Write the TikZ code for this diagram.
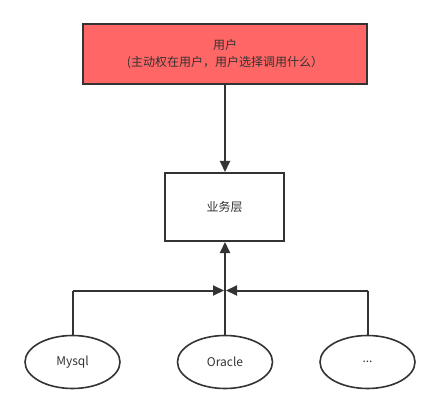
\documentclass[tikz,border=0pt]{standalone}
\usepackage{fontspec}
\setmainfont{Noto Sans CJK SC}
\usetikzlibrary{arrows.meta,shapes.geometric}
\definecolor{ink}{HTML}{333333}
\definecolor{userred}{HTML}{FF6666}
\tikzset{
  x=1pt,y=-1pt,
  box/.style={draw=ink,line width=2pt,text=ink,font=\fontsize{12}{17}\selectfont,align=center,inner sep=0pt},
  db/.style={draw=ink,line width=1.6pt,ellipse,text=ink,font=\fontsize{12}{15}\selectfont,inner sep=0pt,minimum width=95pt,minimum height=53pt},
  conn/.style={draw=ink,line width=2pt,-{Triangle[length=11pt,width=10pt]}},
  plain/.style={draw=ink,line width=2pt}
}
\begin{document}
\begin{tikzpicture}
\useasboundingbox (0,0) rectangle (441,414);
\node[box,fill=userred,minimum width=284pt,minimum height=60pt] (user) at (225,54) {用户\\(主动权在用户，用户选择调用什么）};
\node[box,fill=white,minimum width=119pt,minimum height=68pt] (biz) at (224.5,207) {业务层};
\node[db] (mysql) at (72.5,362) {Mysql};
\node[db] (oracle) at (225,362) {Oracle};
\node[db] (etc) at (367.5,362) {...};
\coordinate (mj) at (72.5,290.5);
\coordinate (ej) at (367.5,290.5);
\coordinate (mt) at (224,290.5);
\coordinate (et) at (226,290.5);
\draw[conn] (user.south) -- (user.south |- biz.north);
\draw[conn] (oracle.north) -- (oracle.north |- biz.south);
\draw[plain] (mysql.north) -- (mj);
\draw[conn] (mj) -- (mt);
\draw[plain] (etc.north) -- (ej);
\draw[conn] (ej) -- (et);
\end{tikzpicture}
\end{document}
